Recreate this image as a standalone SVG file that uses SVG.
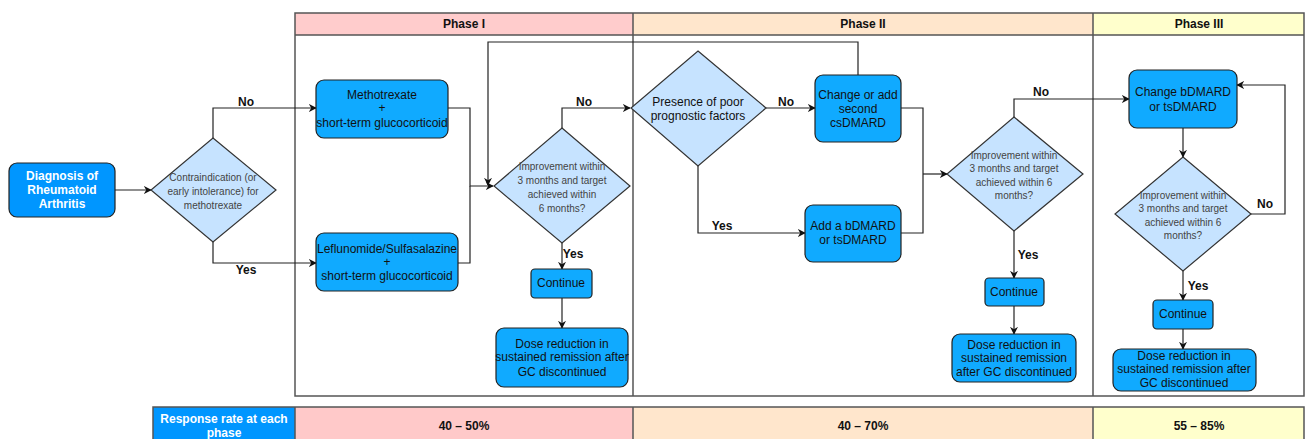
<svg xmlns="http://www.w3.org/2000/svg" width="1305" height="439" viewBox="0 0 1305 439">
<defs>
<style>
text{font-family:"Liberation Sans",Arial,sans-serif;text-anchor:middle;dominant-baseline:central}
.box{fill:#10AAFF;stroke:#222;stroke-width:1.2}
.dbox{fill:#0096FF;stroke:#222;stroke-width:1.2}
.dia{fill:#C6E3FF;stroke:#333;stroke-width:1.2}
.t{font-size:12px;fill:#111}
.tw{font-size:12px;fill:#fff;font-weight:bold}
.ts{font-size:10px;fill:#444}
.lbl{font-size:12px;font-weight:bold;fill:#111}
.hd{font-size:12px;font-weight:bold;fill:#111}
.lane{fill:none;stroke:#555;stroke-width:1.5}
.con{fill:none;stroke:#222;stroke-width:1.2;marker-end:url(#ah)}
.con0{fill:none;stroke:#222;stroke-width:1.2}
</style>
<marker id="ah" viewBox="0 0 10 10" refX="9" refY="5" markerWidth="8" markerHeight="8" markerUnits="userSpaceOnUse" orient="auto">
<path d="M0,0 L10,5 L0,10 L3,5 Z" fill="#111"/>
</marker>
</defs>
<rect width="1305" height="439" fill="#fff"/>
<g id="lanes">
<rect x="295" y="13" width="338" height="22" fill="#FFCCCC"/>
<rect x="633" y="13" width="460" height="22" fill="#FFE6CC"/>
<rect x="1093" y="13" width="211" height="22" fill="#FFFFCC"/>
<rect x="295" y="13" width="1009" height="383" class="lane"/>
<line x1="295" y1="35" x2="1304" y2="35" class="lane"/>
<line x1="633" y1="13" x2="633" y2="396" class="lane"/>
<line x1="1093" y1="13" x2="1093" y2="396" class="lane"/>
<text x="464" y="24" class="hd">Phase I</text>
<text x="863" y="24" class="hd">Phase II</text>
<text x="1199" y="24" class="hd">Phase III</text>
</g>
<g id="response-row">
<rect x="153" y="407" width="142" height="40" fill="#0096FF"/>
<rect x="295" y="407" width="338" height="40" fill="#FFC9C9"/>
<rect x="633" y="407" width="460" height="40" fill="#FFE6CC"/>
<rect x="1093" y="407" width="211" height="40" fill="#FFFFCC"/>
<path d="M153,447 V407 H1304 V447 M295,407 V447 M633,407 V447 M1093,407 V447" class="lane"/>
<text x="224" y="419" class="tw">Response rate at each</text>
<text x="224" y="433" class="tw">phase</text>
<text x="464" y="426" class="hd">40 – 50%</text>
<text x="863" y="426" class="hd">40 – 70%</text>
<text x="1199" y="426" class="hd">55 – 85%</text>
</g>
<g id="connectors">
<path d="M115,190 H151" class="con"/>
<path d="M213,138 V108 H316" class="con"/>
<path d="M213,242 V263 H316" class="con"/>
<path d="M448,108 H470 V186 H493" class="con"/>
<path d="M458,263 H470 V186" class="con0"/>
<path d="M858,75 V42 H488 V185" class="con"/>
<path d="M562,128 V108 H630" class="con"/>
<path d="M562,243 V269" class="con"/>
<path d="M562,298 V328" class="con"/>
<path d="M766,108 H815" class="con"/>
<path d="M698,166 V233 H805" class="con"/>
<path d="M901,108 H923 V233 H901" class="con0"/>
<path d="M923,174 H947" class="con"/>
<path d="M1014,117 V99 H1129" class="con"/>
<path d="M1014,231 V278" class="con"/>
<path d="M1014,306 V334" class="con"/>
<path d="M1183,128 V157" class="con"/>
<path d="M1251,214 H1285 V85 H1237" class="con"/>
<path d="M1183,271 V300" class="con"/>
<path d="M1183,329 V349" class="con"/>
<text x="246" y="102" class="lbl">No</text>
<text x="246" y="270" class="lbl">Yes</text>
<text x="584" y="102" class="lbl">No</text>
<text x="573" y="254" class="lbl">Yes</text>
<text x="786" y="102" class="lbl">No</text>
<text x="722" y="226" class="lbl">Yes</text>
<text x="1041" y="92" class="lbl">No</text>
<text x="1028" y="255" class="lbl">Yes</text>
<text x="1265" y="204" class="lbl">No</text>
<text x="1198" y="286" class="lbl">Yes</text>
</g>
<g id="diagnosis">
<rect x="9" y="163" width="106" height="54" rx="8" class="dbox"/>
<text x="62" y="176" class="tw">Diagnosis of</text>
<text x="62" y="190" class="tw">Rheumatoid</text>
<text x="62" y="204" class="tw">Arthritis</text>
</g>
<g id="contraindication">
<polygon points="213,138 276,190 213,242 151,190" class="dia"/>
<text x="213" y="177" class="ts">Contraindication (or</text>
<text x="213" y="191" class="ts">early intolerance) for</text>
<text x="213" y="205" class="ts">methotrexate</text>
</g>
<g id="methotrexate">
<rect x="316" y="80" width="132" height="58" rx="8" class="box"/>
<text x="382" y="95" class="t">Methotrexate</text>
<text x="382" y="108" class="t">+</text>
<text x="382" y="123" class="t">short-term glucocorticoid</text>
</g>
<g id="leflunomide">
<rect x="316" y="233" width="142" height="58" rx="8" class="box"/>
<text x="387" y="249" class="t">Leflunomide/Sulfasalazine</text>
<text x="387" y="262" class="t">+</text>
<text x="387" y="276" class="t">short-term glucocorticoid</text>
</g>
<g id="improvement1">
<polygon points="562,128 630,186 562,243 494,186" class="dia"/>
<text x="562" y="166" class="ts">Improvement within</text>
<text x="562" y="180" class="ts">3 months and target</text>
<text x="562" y="194" class="ts">achieved within</text>
<text x="562" y="208" class="ts">6 months?</text>
</g>
<g id="continue1">
<rect x="531" y="269" width="61" height="29" rx="4" class="box"/>
<text x="561" y="283" class="t">Continue</text>
</g>
<g id="dose1">
<rect x="496" y="328" width="132" height="59" rx="8" class="box"/>
<text x="562" y="344" class="t">Dose reduction in</text>
<text x="562" y="357" class="t">sustained remission after</text>
<text x="562" y="372" class="t">GC discontinued</text>
</g>
<g id="poor-prognostic">
<polygon points="698,51 766,108 698,166 631,108" class="dia"/>
<text x="698" y="102" class="t" fill="#333">Presence of poor</text>
<text x="698" y="116" class="t" fill="#333">prognostic factors</text>
</g>
<g id="change-csdmard">
<rect x="815" y="75" width="86" height="67" rx="8" class="box"/>
<text x="858" y="95" class="t">Change or add</text>
<text x="858" y="109" class="t">second</text>
<text x="858" y="123" class="t">csDMARD</text>
</g>
<g id="add-bdmard">
<rect x="805" y="205" width="96" height="57" rx="8" class="box"/>
<text x="853" y="226" class="t">Add a bDMARD</text>
<text x="853" y="240" class="t">or tsDMARD</text>
</g>
<g id="improvement2">
<polygon points="1014,117 1083,174 1014,231 947,174" class="dia"/>
<text x="1014" y="155" class="ts">Improvement within</text>
<text x="1014" y="168" class="ts">3 months and target</text>
<text x="1014" y="182" class="ts">achieved within 6</text>
<text x="1014" y="195" class="ts">months?</text>
</g>
<g id="continue2">
<rect x="985" y="278" width="59" height="28" rx="4" class="box"/>
<text x="1014" y="292" class="t">Continue</text>
</g>
<g id="dose2">
<rect x="952" y="334" width="124" height="48" rx="8" class="box"/>
<text x="1014" y="345" class="t">Dose reduction in</text>
<text x="1014" y="358" class="t">sustained remission</text>
<text x="1014" y="372" class="t">after GC discontinued</text>
</g>
<g id="change-bdmard">
<rect x="1129" y="70" width="108" height="58" rx="8" class="box"/>
<text x="1183" y="92" class="t">Change bDMARD</text>
<text x="1183" y="107" class="t">or tsDMARD</text>
</g>
<g id="improvement3">
<polygon points="1183,157 1251,214 1183,271 1115,214" class="dia"/>
<text x="1183" y="195" class="ts">Improvement within</text>
<text x="1183" y="208" class="ts">3 months and target</text>
<text x="1183" y="222" class="ts">achieved within 6</text>
<text x="1183" y="235" class="ts">months?</text>
</g>
<g id="continue3">
<rect x="1153" y="300" width="60" height="29" rx="4" class="box"/>
<text x="1183" y="314" class="t">Continue</text>
</g>
<g id="dose3">
<rect x="1113" y="349" width="143" height="42" rx="8" class="box"/>
<text x="1184" y="356" class="t">Dose reduction in</text>
<text x="1184" y="369" class="t">sustained remission after</text>
<text x="1184" y="383" class="t">GC discontinued</text>
</g>
</svg>
